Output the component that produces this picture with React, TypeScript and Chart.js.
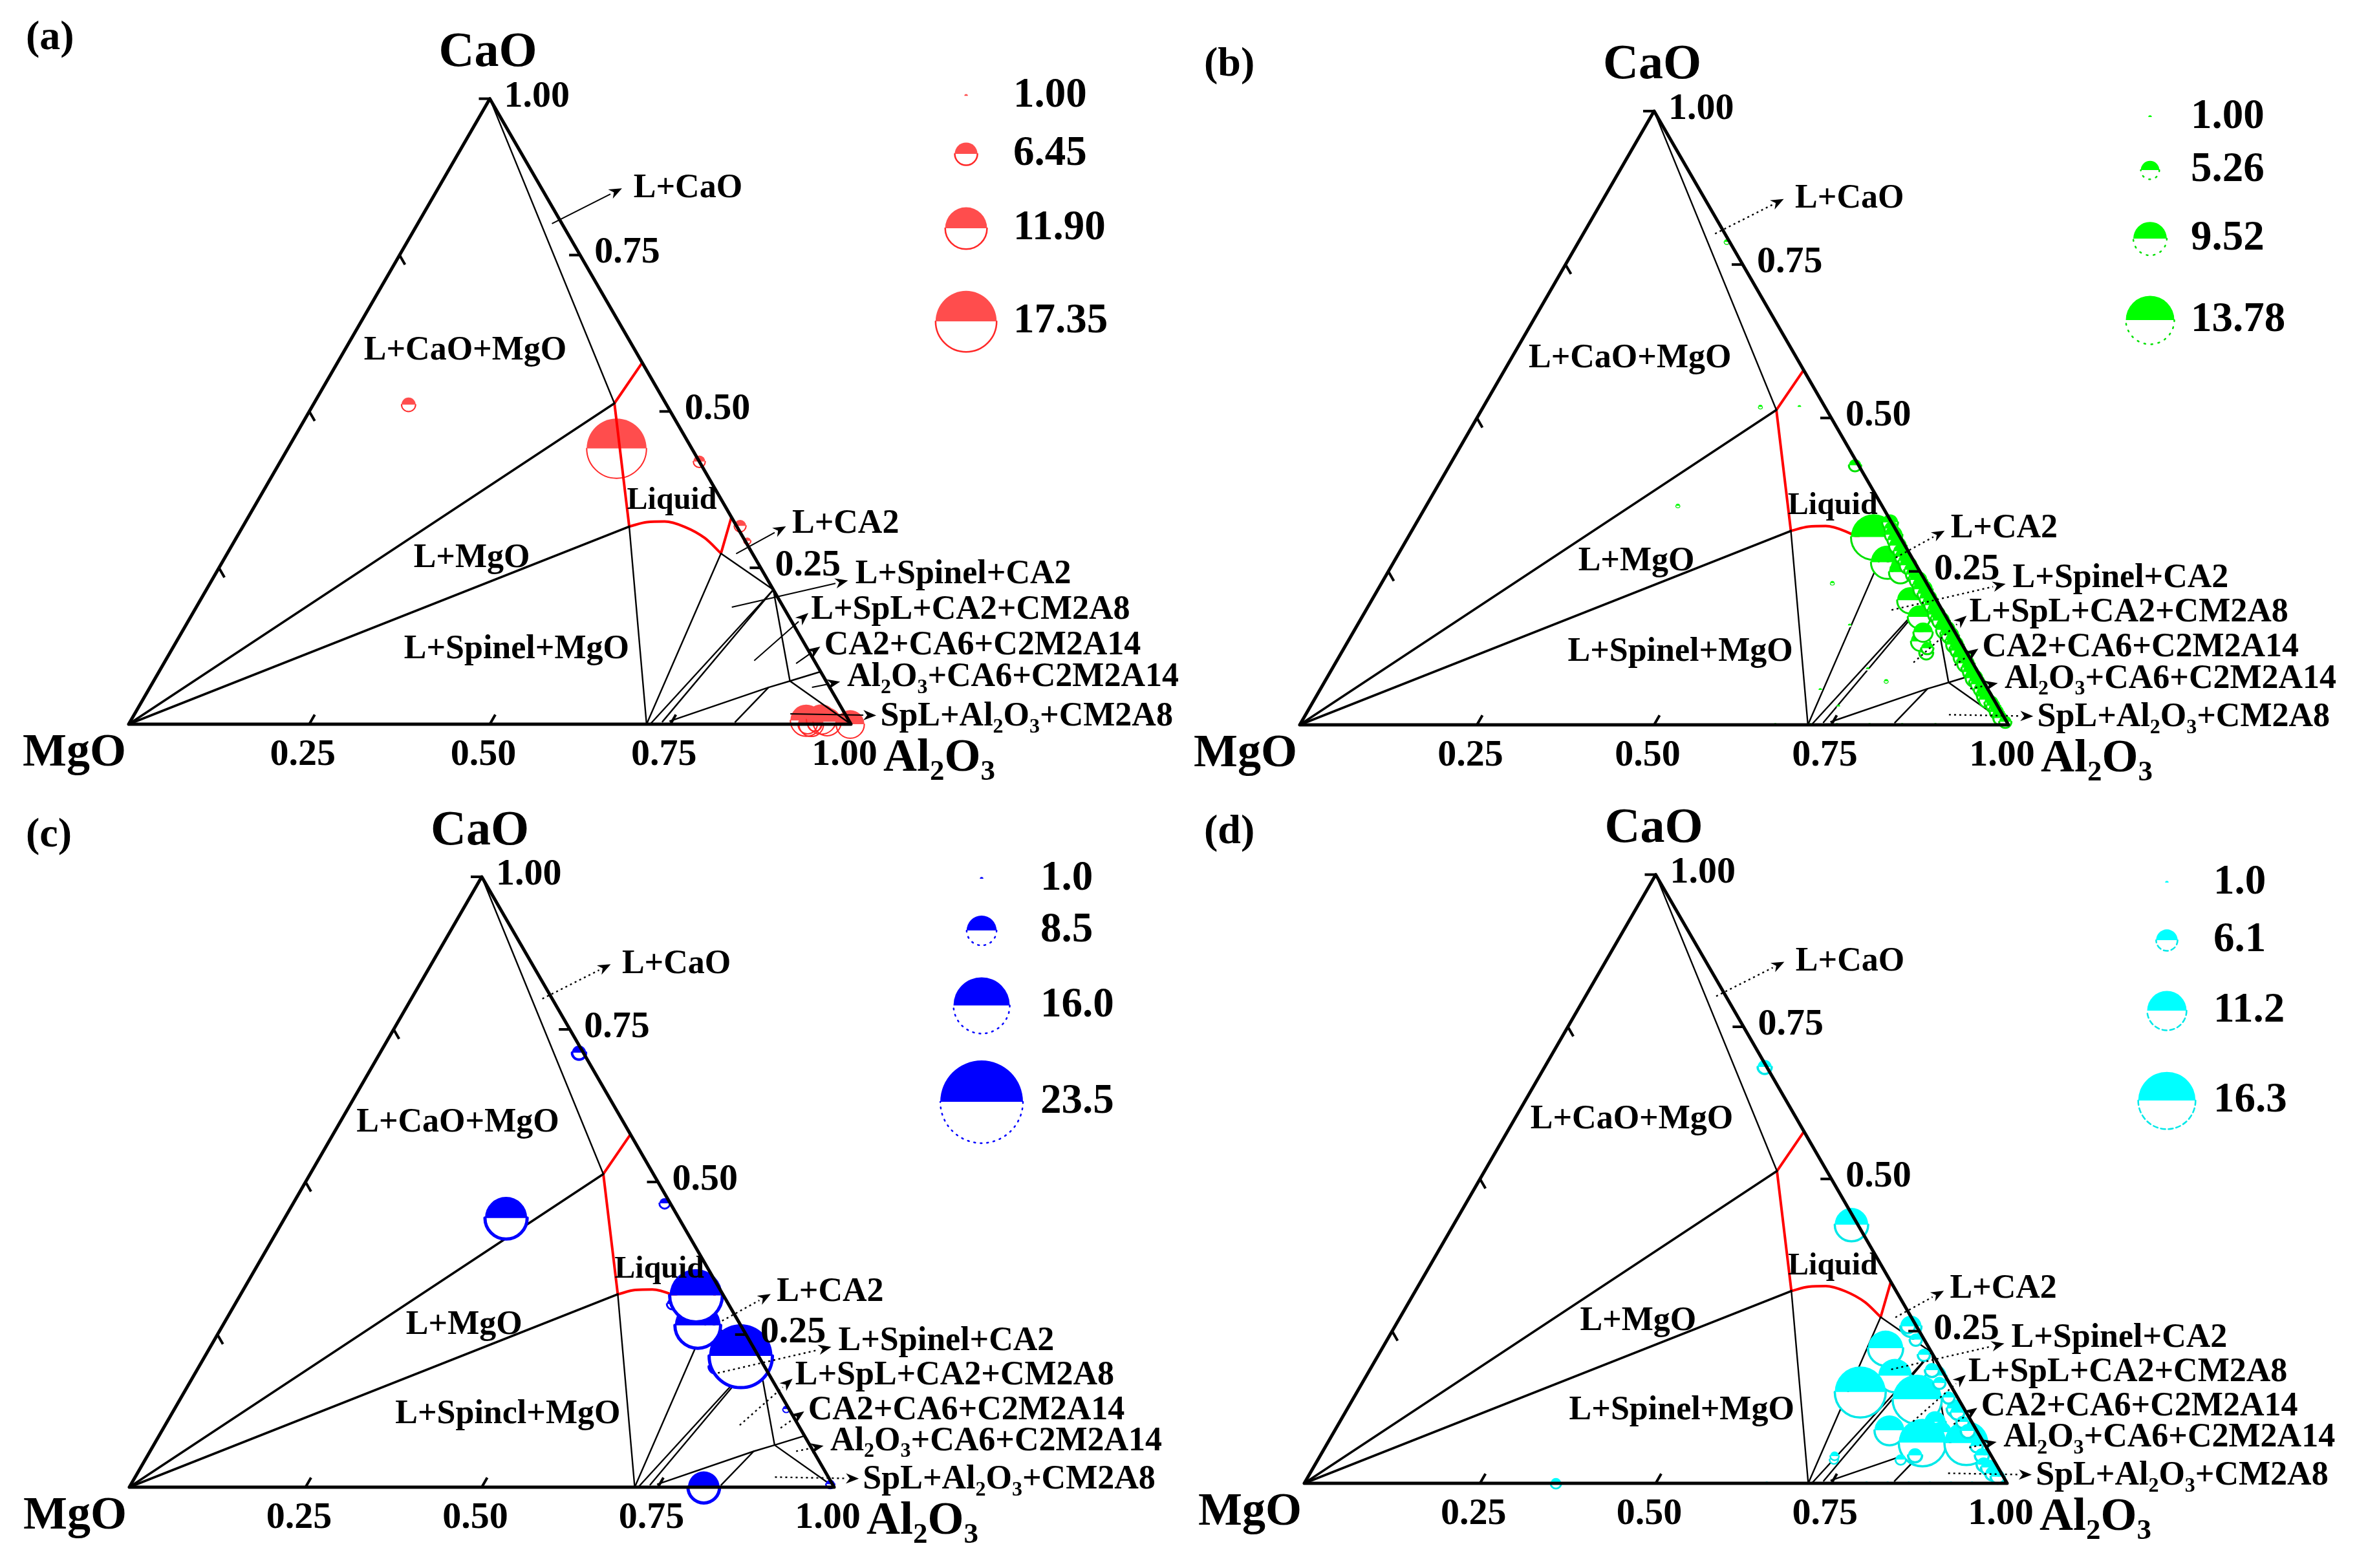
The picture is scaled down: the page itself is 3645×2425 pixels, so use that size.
import { useEffect, useRef } from "react";
import { Chart, registerables } from "chart.js";

Chart.register(...registerables);

const H = Math.sqrt(3) / 2;
const FONT = '"Liberation Serif", "Times New Roman", serif';
const BUBBLE_PX = 2.72; // pixel radius per unit of bubble value

// ---------- phase diagram (mass fractions: [Al2O3, CaO]) ----------
const vMgO = [0, 0];
const vAl2O3 = [1, 0];
const vCaO = [0, 1];
const pE1 = [0.422, 0.578];
const pP1 = [0.416, 0.513];
const pP2 = [0.535, 0.316];
const pP3 = [0.6835, 0.273];
const pE2 = [0.669, 0.331];
const pSpinel = [0.717, 0];
const pSpinel2 = [0.722, 0];
const pSpinel3 = [0.737, 0.004];
const pCA2 = [0.785, 0.215];
const pC2M2A14 = [0.881, 0.069];
const pCA6 = [0.916, 0.084];
const pCM2A8 = [0.8565, 0.0588];
const pBase1 = [0.747, 0.005];
const pBase2 = [0.838, 0.0035];
const liquidusCurve = [pP2, [0.556, 0.323], [0.58, 0.324], [0.612, 0.3155], [0.649, 0.2975], pP3];

const triangleEdge = [vMgO, vAl2O3, vCaO, vMgO];
const redUpper = [pE1, pP1, pP2];
const redRight = [pP3, pE2];
const thickTies = [[vMgO, pP1], [vMgO, pP2]];
const thinTies = [
  [vCaO, pP1],
  [pP2, pSpinel],
  [pSpinel, pP3],
  [pP3, pCA2],
  [pSpinel2, pCA2],
  [pSpinel3, pCA2],
  [pCA2, pC2M2A14],
  [pC2M2A14, vAl2O3],
  [pBase1, pCM2A8, pC2M2A14, pCA6],
  [pCM2A8, pBase2],
];

// ---------- axis ticks ----------
const rightTickValues = [1.0, 0.75, 0.5, 0.25];
const rightTickLabels = ["1.00", "0.75", "0.50", "0.25"];
const bottomTickValues = [0.25, 0.5, 0.75, 1.0];
const bottomTickLabels = ["0.25", "0.50", "0.75", "1.00"];
const leftTickValues = [0.25, 0.5, 0.75];

// ---------- panel (a) ----------
const aAl2O3 = [0.132, 0.455, 0.58, 0.688, 0.71, 0.935, 0.945, 0.94, 0.95, 0.955, 0.965, 0.999];
const aCaO = [0.511, 0.441, 0.42, 0.317, 0.293, 0.006, 0.0, 0.0, 0.0, 0.008, 0.004, 0.0];
const aSize = [4.0, 17.0, 3.4, 3.4, 2.0, 9.0, 7.0, 5.5, 4.0, 8.5, 8.0, 8.0];
const aLegendValues = [1.0, 6.45, 11.9, 17.35];
const aLegendLabels = ["1.00", "6.45", "11.90", "17.35"];

// ---------- panel (b) ----------
const bAl2O3 = [
  0.209, 0.391, 0.446, 0.355, 0.572, 0.657, 0.697, 0.719, 0.723, 0.76, 0.786, 0.808, 0.804, 0.825, 0.823,
  0.668, 0.675, 0.683, 0.69, 0.698, 0.706, 0.714, 0.721, 0.729, 0.7365, 0.744, 0.749, 0.755, 0.762, 0.769,
  0.776, 0.784, 0.789, 0.795, 0.802, 0.809, 0.814, 0.82, 0.827, 0.834, 0.84, 0.845, 0.852, 0.859, 0.864,
  0.869, 0.875, 0.88, 0.885, 0.89, 0.897, 0.904, 0.909, 0.914, 0.919, 0.925, 0.932, 0.939, 0.944, 0.949,
  0.958, 0.963, 0.968, 0.973, 0.978, 0.983, 0.993,
  0.671, 0.72, 0.758, 0.804, 0.85, 0.897,
  0.636, 0.695, 0.756, 0.792, 0.706, 0.745,
];
const bCaO = [
  0.787, 0.518, 0.518, 0.357, 0.423, 0.306, 0.265, 0.257, 0.249, 0.203, 0.176, 0.136, 0.151, 0.118, 0.125,
  0.33, 0.32, 0.31, 0.301, 0.292, 0.283, 0.274, 0.267, 0.26, 0.2525, 0.245, 0.24, 0.236, 0.228, 0.221,
  0.2135, 0.206, 0.2, 0.195, 0.1875, 0.18, 0.175, 0.17, 0.1625, 0.155, 0.15, 0.146, 0.138, 0.131, 0.126,
  0.121, 0.115, 0.11, 0.105, 0.1, 0.093, 0.086, 0.081, 0.076, 0.071, 0.066, 0.058, 0.051, 0.046, 0.041,
  0.036, 0.031, 0.026, 0.021, 0.016, 0.011, 0.005,
  0.0, 0.0, 0.0, 0.0, 0.0, 0.0,
  0.231, 0.162, 0.091, 0.071, 0.057, 0.03,
];
const bSize = [
  1.5, 1.2, 1.0, 1.2, 3.5, 13.0, 9.5, 5.5, 6.5, 7.5, 6.5, 5.5, 5.5, 4.0, 3.5,
  4.5, 4.0, 5.0, 4.5, 5.0, 4.0, 4.5, 4.0, 5.0, 4.0, 4.5, 4.0, 5.0, 4.5, 5.5,
  4.5, 5.0, 4.0, 4.5, 4.0, 5.0, 4.5, 5.0, 4.0, 5.5, 4.5, 5.0, 4.0, 5.0, 4.0,
  4.5, 4.0, 5.0, 4.0, 5.0, 4.0, 4.5, 4.0, 5.0, 4.0, 4.5, 4.0, 4.0, 4.5, 4.5,
  4.0, 4.0, 3.5, 4.0, 3.5, 4.0, 3.5,
  1.0, 1.0, 1.0, 1.0, 1.0, 1.0,
  1.2, 1.0, 1.0, 1.2, 1.0, 1.0,
];
const bLegendValues = [1.0, 5.26, 9.52, 13.78];
const bLegendLabels = ["1.00", "5.26", "9.52", "13.78"];

// ---------- panel (c) ----------
const cAl2O3 = [0.282, 0.314, 0.527, 0.62, 0.674, 0.647, 0.733, 0.76, 0.868, 0.815, 0.992];
const cCaO = [0.712, 0.441, 0.465, 0.3, 0.265, 0.314, 0.198, 0.215, 0.128, 0.0, 0.005];
const cSize = [4.0, 12.0, 3.0, 3.0, 13.0, 15.0, 4.0, 18.0, 2.0, 9.0, 2.5];
const cLegendValues = [1.0, 8.5, 16.0, 23.5];
const cLegendLabels = ["1.0", "8.5", "16.0", "23.5"];

// ---------- panel (d) ----------
const dAl2O3 = [
  0.313, 0.566, 0.734, 0.716, 0.752, 0.716, 0.81, 0.865, 0.803, 0.847, 0.789, 0.864, 0.846, 0.909, 0.846,
  0.829, 0.734, 0.732, 0.358,
  0.73, 0.752, 0.776, 0.8, 0.821, 0.846, 0.871, 0.886, 0.901, 0.926, 0.941, 0.951, 0.961, 0.971, 0.981,
  0.658, 0.8, 0.83, 0.86, 0.89, 0.92, 0.95, 0.98,
];
const dCaO = [
  0.684, 0.425, 0.258, 0.222, 0.177, 0.15, 0.177, 0.123, 0.138, 0.101, 0.087, 0.084, 0.067, 0.066, 0.046,
  0.039, 0.039, 0.045, 0.0,
  0.258, 0.236, 0.211, 0.186, 0.165, 0.141, 0.116, 0.101, 0.086, 0.061, 0.046, 0.031, 0.026, 0.016, 0.011,
  0.0, 0.0, 0.0, 0.0, 0.0, 0.0, 0.0, 0.0,
];
const dSize = [
  4.0, 9.5, 6.0, 10.0, 9.5, 14.5, 6.0, 5.0, 14.0, 6.0, 8.5, 6.0, 13.5, 12.5, 4.0,
  3.0, 2.5, 2.5, 3.0,
  4.0, 3.5, 3.5, 4.0, 3.5, 3.5, 4.0, 3.5, 4.0, 3.5, 4.0, 4.0, 4.5, 4.0, 4.0,
  1.0, 1.0, 1.0, 1.0, 1.0, 1.0, 1.0, 1.0,
];
const dLegendValues = [1.0, 6.1, 11.2, 16.3];
const dLegendLabels = ["1.0", "6.1", "11.2", "16.3"];

// ---------- region labels (layout, in triangle-side units) ----------
const REGION_LABELS = [
  { text: "L+CaO", x: 0.699, y: 0.742, align: "left", arrow: [0.586, 0.693, 0.683, 0.742] },
  { text: "L+CaO+MgO", x: 0.466, y: 0.517, align: "center" },
  { text: "L+MgO", x: 0.475, y: 0.23, align: "center" },
  { text: "SPINEL_MGO", x: 0.537, y: 0.103, align: "center" },
  { text: "Liquid", x: 0.752, y: 0.309, align: "center", size: 48 },
  { text: "L+CA2", x: 0.9185, y: 0.2766, align: "left", arrow: [0.841, 0.236, 0.91, 0.274] },
  { text: "L+Spinel+CA2", x: 1.006, y: 0.2068, align: "left", arrow: [0.835, 0.162, 0.996, 0.199] },
  { text: "L+SpL+CA2+CM2A8", x: 0.9447, y: 0.158, align: "left", arrow: [0.866, 0.088, 0.941, 0.154] },
  { text: "CA2+CA6+C2M2A14", x: 0.963, y: 0.109, align: "left", arrow: [0.924, 0.084, 0.9575, 0.1075] },
  { text: "Al_2O_3+CA6+C2M2A14", x: 0.9946, y: 0.0646, align: "left", arrow: [0.946, 0.051, 0.985, 0.0588] },
  { text: "SpL+Al_2O_3+CM2A8", x: 1.0407, y: 0.0101, align: "left", arrow: [0.916, 0.0143, 1.035, 0.0121] },
];

const PANELS = [
  {
    key: "a", left: 0, top: 0, w: 1822, h: 1212, ox: 199, oy: 1120, side: 1117,
    letter: "(a)", letterPos: [40, 59],
    fill: "rgb(255,77,77)", stroke: "rgb(255,40,40)", arrowDotted: false,
    outlineW: 2, legendDash: [] as number[], bottomFill: null as string | null, bubblesUnderLines: true,
    al: aAl2O3, ca: aCaO, sz: aSize, legV: aLegendValues, legL: aLegendLabels,
    legX: 1.1594, legY: [0.87, 0.7896, 0.6867, 0.5577], legLX: 1.2247,
    spinelText: "L+Spinel+MgO",
  },
  {
    key: "b", left: 1822, top: 0, w: 1823, h: 1212, ox: 2010, oy: 1121, side: 1096,
    letter: "(b)", letterPos: [1862, 100],
    fill: "#00ff00", stroke: "#00e000", arrowDotted: true,
    outlineW: 3, legendDash: [2, 9], bottomFill: "#ffffff", bubblesUnderLines: false,
    al: bAl2O3, ca: bCaO, sz: bSize, legV: bLegendValues, legL: bLegendLabels,
    legX: 1.1998, legY: [0.8577, 0.7828, 0.6861, 0.5712], legLX: 1.2573,
    spinelText: "L+Spinel+MgO",
  },
  {
    key: "c", left: 0, top: 1212, w: 1822, h: 1213, ox: 200, oy: 2300, side: 1090,
    letter: "(c)", letterPos: [40, 1292],
    fill: "#0000ff", stroke: "#0000ff", arrowDotted: true,
    outlineW: 5, legendDash: [2, 8], bottomFill: "#ffffff", bubblesUnderLines: false,
    al: cAl2O3, ca: cCaO, sz: cSize, legV: cLegendValues, legL: cLegendLabels,
    legX: 1.2092, legY: [0.8633, 0.7899, 0.6835, 0.5468], legLX: 1.2927,
    spinelText: "L+Spincl+MgO",
  },
  {
    key: "d", left: 1822, top: 1212, w: 1823, h: 1213, ox: 2017, oy: 2294, side: 1087,
    letter: "(d)", letterPos: [1862, 1287],
    fill: "#00ffff", stroke: "#00e8e8", arrowDotted: true,
    outlineW: 3.5, legendDash: [7, 5], bottomFill: "#ffffff", bubblesUnderLines: false,
    al: dAl2O3, ca: dCaO, sz: dSize, legV: dLegendValues, legL: dLegendLabels,
    legX: 1.2272, legY: [0.8546, 0.7728, 0.6725, 0.5446], legLX: 1.2935,
    spinelText: "L+Spinel+MgO",
  },
];

function toXY(p: number[]) {
  return { x: p[0] + p[1] / 2, y: p[1] * H };
}

function parseRich(text: string) {
  const segs: { t: string; sub: boolean }[] = [];
  let buf = "";
  for (let i = 0; i < text.length; i++) {
    if (text[i] === "_" && i + 1 < text.length) {
      if (buf) segs.push({ t: buf, sub: false });
      buf = "";
      segs.push({ t: text[i + 1], sub: true });
      i++;
    } else buf += text[i];
  }
  if (buf) segs.push({ t: buf, sub: false });
  return segs;
}

function drawRich(ctx: CanvasRenderingContext2D, text: string, x: number, y: number, size: number, align: string) {
  const segs = parseRich(text);
  const main = `bold ${size}px ${FONT}`;
  const sub = `bold ${Math.round(size * 0.62)}px ${FONT}`;
  let w = 0;
  for (const s of segs) {
    ctx.font = s.sub ? sub : main;
    w += ctx.measureText(s.t).width;
  }
  let cx = align === "center" ? x - w / 2 : align === "right" ? x - w : x;
  ctx.textAlign = "left";
  ctx.textBaseline = "middle";
  ctx.fillStyle = "#000";
  for (const s of segs) {
    ctx.font = s.sub ? sub : main;
    ctx.fillText(s.t, cx, s.sub ? y + size * 0.3 : y);
    cx += ctx.measureText(s.t).width;
  }
}

function drawHalfBubble(
  ctx: CanvasRenderingContext2D, x: number, y: number, r: number,
  fill: string, stroke: string, lineW: number, dash: number[], bottomFill: string | null
) {
  if (!(r > 0)) return;
  ctx.save();
  if (bottomFill) {
    ctx.beginPath();
    ctx.arc(x, y, r, 0, Math.PI, false);
    ctx.closePath();
    ctx.fillStyle = bottomFill;
    ctx.fill();
  }
  if (r > 3) {
    ctx.strokeStyle = stroke;
    ctx.lineWidth = Math.min(lineW, r * 0.35);
    ctx.lineCap = "round";
    ctx.setLineDash(dash);
    ctx.beginPath();
    ctx.arc(x, y, r, 0, Math.PI, false);
    ctx.stroke();
    ctx.setLineDash([]);
  }
  ctx.beginPath();
  ctx.arc(x, y, r, Math.PI, 2 * Math.PI, false);
  ctx.closePath();
  ctx.fillStyle = fill;
  ctx.fill();
  ctx.restore();
}

function drawArrow(ctx: CanvasRenderingContext2D, x1: number, y1: number, x2: number, y2: number, dotted: boolean) {
  const ang = Math.atan2(y2 - y1, x2 - x1);
  const L = 20;
  const W = 8;
  const bx = x2 - L * Math.cos(ang);
  const by = y2 - L * Math.sin(ang);
  ctx.save();
  ctx.strokeStyle = "#000";
  ctx.lineWidth = dotted ? 2.4 : 2;
  ctx.setLineDash(dotted ? [3, 5] : []);
  ctx.beginPath();
  ctx.moveTo(x1, y1);
  ctx.lineTo(bx, by);
  ctx.stroke();
  ctx.setLineDash([]);
  ctx.beginPath();
  ctx.moveTo(x2, y2);
  ctx.lineTo(bx + W * Math.sin(ang), by - W * Math.cos(ang));
  ctx.lineTo(x2 - 0.7 * L * Math.cos(ang), y2 - 0.7 * L * Math.sin(ang));
  ctx.lineTo(bx - W * Math.sin(ang), by + W * Math.cos(ang));
  ctx.closePath();
  ctx.fillStyle = "#000";
  ctx.fill();
  ctx.restore();
}

function makePlugin(cfg: any) {
  return {
    id: "ternary_" + cfg.key,
    afterDatasetDraw(chart: any, args: any) {
      const ds = chart.data.datasets[args.index];
      if (!ds || ds.type !== "bubble") return;
      const ctx = chart.ctx;
      const isLegend = ds.label === "legend";
      const meta = chart.getDatasetMeta(args.index);
      meta.data.forEach((el: any, j: number) => {
        const r = el.options && el.options.radius != null ? el.options.radius : ds.data[j].r;
        drawHalfBubble(
          ctx, el.x, el.y, r, cfg.fill, cfg.stroke,
          isLegend ? 2.5 : cfg.outlineW,
          isLegend ? cfg.legendDash : [],
          cfg.bottomFill
        );
      });
    },
    afterDatasetsDraw(chart: any) {
      const ctx: CanvasRenderingContext2D = chart.ctx;
      const xs = chart.scales.x;
      const ys = chart.scales.y;
      const px = (x: number) => xs.getPixelForValue(x);
      const py = (y: number) => ys.getPixelForValue(y);
      const tp = (p: number[]) => {
        const q = toXY(p);
        return [px(q.x), py(q.y)];
      };
      ctx.save();
      // ticks
      ctx.strokeStyle = "#000";
      ctx.lineWidth = 4;
      const TL = 17;
      rightTickValues.forEach((t) => {
        const [x, y] = tp([1 - t, t]);
        ctx.beginPath();
        ctx.moveTo(x, y);
        ctx.lineTo(x - TL, y);
        ctx.stroke();
      });
      bottomTickValues.slice(0, 3).forEach((t) => {
        const [x, y] = tp([t, 0]);
        ctx.beginPath();
        ctx.moveTo(x, y);
        ctx.lineTo(x + TL * 0.5, y - TL * H);
        ctx.stroke();
      });
      leftTickValues.forEach((t) => {
        const [x, y] = tp([0, t]);
        ctx.beginPath();
        ctx.moveTo(x, y);
        ctx.lineTo(x + TL * 0.5, y + TL * H);
        ctx.stroke();
      });
      // tick labels
      rightTickValues.forEach((t, i) => {
        const [x, y] = tp([1 - t, t]);
        drawRich(ctx, rightTickLabels[i], x + 22, y - 3, 58, "left");
      });
      bottomTickValues.forEach((t, i) => {
        const [x, y] = tp([t, 0]);
        drawRich(ctx, bottomTickLabels[i], x - 10, y + 48, 58, "center");
      });
      // vertex labels
      {
        const [cx, cy] = tp(vCaO);
        drawRich(ctx, "CaO", cx - 3, cy - 70, 76, "center");
        const [mx, my] = tp(vMgO);
        drawRich(ctx, "MgO", mx - 84, my + 45, 72, "center");
        const [ax, ay] = tp(vAl2O3);
        drawRich(ctx, "Al_2O_3", ax + 50, ay + 53, 72, "left");
      }
      // region labels + arrows
      REGION_LABELS.forEach((lab: any) => {
        if (lab.arrow) {
          drawArrow(ctx, px(lab.arrow[0]), py(lab.arrow[1]), px(lab.arrow[2]), py(lab.arrow[3]), cfg.arrowDotted);
        }
        const text = lab.text === "SPINEL_MGO" ? cfg.spinelText : lab.text;
        drawRich(ctx, text, px(lab.x), py(lab.y), lab.size || 52, lab.align);
      });
      // legend labels
      cfg.legL.forEach((s: string, i: number) => {
        drawRich(ctx, s, px(cfg.legLX), py(cfg.legY[i]), 65, "left");
      });
      // panel letter
      drawRich(ctx, cfg.letter, cfg.letterPos[0] - cfg.left, cfg.letterPos[1] - cfg.top, 64, "left");
      ctx.restore();
    },
  };
}

function buildConfig(cfg: any) {
  const lx = cfg.ox - cfg.left;
  const ly = cfg.oy - cfg.top;
  const S = cfg.side;
  // Chart.js draws higher "order" first, so lower order ends up on top.
  const lineDs = (pts: number[][], width: number, color: string, order: number, curve = false) => ({
    type: "line",
    order,
    data: pts.map(toXY),
    borderColor: color,
    borderWidth: width,
    pointRadius: 0,
    pointHoverRadius: 0,
    fill: false,
    tension: curve ? 0.4 : 0,
    cubicInterpolationMode: curve ? "monotone" : "default",
    borderCapStyle: "round",
    borderJoinStyle: "round",
  });
  const datasets: any[] = [];
  datasets.push(lineDs(triangleEdge, 5, "#000", 0));
  thickTies.forEach((seg) => datasets.push(lineDs(seg, 3.5, "#000", 2)));
  thinTies.forEach((seg) => datasets.push(lineDs(seg, 2.4, "#000", 2)));
  datasets.push(lineDs(redUpper, 4, "#ff0000", 2));
  datasets.push(lineDs(liquidusCurve, 4, "#ff0000", 2, true));
  datasets.push(lineDs(redRight, 4, "#ff0000", 2));
  datasets.push({
    type: "bubble",
    label: "data",
    order: cfg.bubblesUnderLines ? 3 : 1,
    data: cfg.al.map((a: number, i: number) => ({ x: a + cfg.ca[i] / 2, y: cfg.ca[i] * H, r: cfg.sz[i] * BUBBLE_PX })),
    backgroundColor: "rgba(0,0,0,0)",
    borderColor: "rgba(0,0,0,0)",
    borderWidth: 0,
    hoverRadius: 0,
  });
  datasets.push({
    type: "bubble",
    label: "legend",
    order: 1,
    data: cfg.legV.map((v: number, i: number) => ({ x: cfg.legX, y: cfg.legY[i], r: v * BUBBLE_PX })),
    backgroundColor: "rgba(0,0,0,0)",
    borderColor: "rgba(0,0,0,0)",
    borderWidth: 0,
    hoverRadius: 0,
  });
  return {
    type: "scatter",
    data: { datasets },
    options: {
      responsive: false,
      maintainAspectRatio: false,
      animation: false,
      devicePixelRatio: 1,
      events: [],
      layout: { padding: 0, autoPadding: false },
      plugins: { legend: { display: false }, tooltip: { enabled: false } },
      scales: {
        x: { type: "linear", display: false, min: -lx / S, max: (cfg.w - lx) / S },
        y: { type: "linear", display: false, min: -(cfg.h - ly) / S, max: ly / S },
      },
    },
    plugins: [makePlugin(cfg)],
  };
}

function Panel({ cfg }: { cfg: any }) {
  const ref = useRef<HTMLCanvasElement | null>(null);
  useEffect(() => {
    if (!ref.current) return;
    const chart = new Chart(ref.current, buildConfig(cfg) as any);
    return () => chart.destroy();
  }, [cfg]);
  return (
    <canvas
      ref={ref}
      width={cfg.w}
      height={cfg.h}
      style={{ position: "absolute", left: cfg.left, top: cfg.top, width: cfg.w, height: cfg.h }}
    />
  );
}

export default function App() {
  return (
    <div
      style={{
        position: "absolute",
        left: 0,
        top: 0,
        width: 3645,
        height: 2425,
        background: "#ffffff",
        overflow: "hidden",
      }}
    >
      {PANELS.map((p) => (
        <Panel key={p.key} cfg={p} />
      ))}
    </div>
  );
}
